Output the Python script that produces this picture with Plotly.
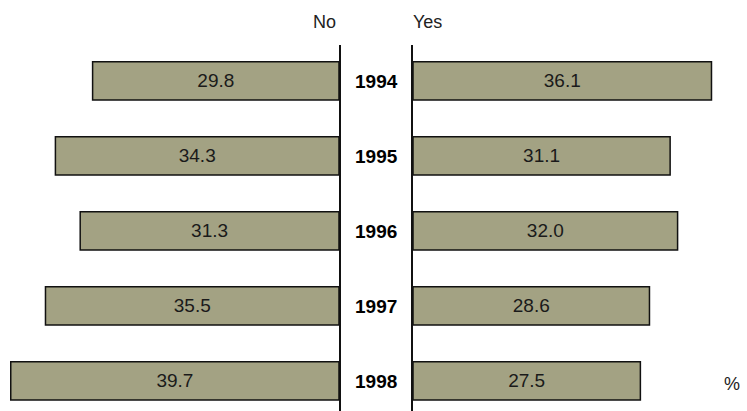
import plotly.graph_objects as go

years = ["1994", "1995", "1996", "1997", "1998"]
no_vals = [29.8, 34.3, 31.3, 35.5, 39.7]
yes_vals = [36.1, 31.1, 32.0, 28.6, 27.5]

W, H = 747, 411
BAR = "#a3a283"
FONT = "Liberation Sans, Arial, sans-serif"

fig = go.Figure()
fig.add_trace(go.Bar(
    y=years, x=no_vals, orientation="h", xaxis="x", yaxis="y",
    marker=dict(color=BAR, line=dict(color="#111111", width=1.5)),
    width=0.51, text=[f"{v:.1f}" for v in no_vals], textposition="inside",
    insidetextanchor="middle", textangle=0,
    textfont=dict(family=FONT, size=19, color="#1a1a1a"),
    hoverinfo="skip", showlegend=False,
))
fig.add_trace(go.Bar(
    y=years, x=yes_vals, orientation="h", xaxis="x2", yaxis="y2",
    marker=dict(color=BAR, line=dict(color="#111111", width=1.5)),
    width=0.51, text=[f"{v:.1f}" for v in yes_vals], textposition="inside",
    insidetextanchor="middle", textangle=0,
    textfont=dict(family=FONT, size=19, color="#1a1a1a"),
    hoverinfo="skip", showlegend=False,
))

left_end = 339 / W
right_start = 413 / W
pxu = 339 / 41.0
ytop = 1 - 45 / H

fig.update_layout(
    width=W, height=H, margin=dict(l=0, r=0, t=0, b=0),
    paper_bgcolor="white", plot_bgcolor="white",
    xaxis=dict(domain=[0, left_end], range=[41.0, 0], visible=False, fixedrange=True),
    xaxis2=dict(domain=[right_start, 1], range=[0, (W - 413) / pxu], visible=False, fixedrange=True),
    yaxis=dict(domain=[0, ytop], anchor="x", side="right", range=[4.4, -0.48],
               showline=True, linecolor="#111111", linewidth=2, showticklabels=False,
               ticks="", showgrid=False, zeroline=False, type="category", fixedrange=True),
    yaxis2=dict(domain=[0, ytop], anchor="x2", side="left", range=[4.4, -0.48],
                showline=True, linecolor="#111111", linewidth=2, showticklabels=False,
                ticks="", showgrid=False, zeroline=False, type="category", fixedrange=True),
)

for i, yr in enumerate(years):
    fig.add_annotation(x=376 / W, xref="paper", y=i, yref="y", text=f"<b>{yr}</b>",
                       showarrow=False, font=dict(family=FONT, size=19, color="#000"),
                       xanchor="center", yanchor="middle")

fig.add_annotation(x=338 / W, xref="paper", y=1 - 22 / H, yref="paper", text="No",
                   showarrow=False, xanchor="right", yanchor="middle",
                   font=dict(family=FONT, size=18, color="#222"))
fig.add_annotation(x=411 / W, xref="paper", y=1 - 22 / H, yref="paper", text="Yes",
                   showarrow=False, xanchor="left", yanchor="middle",
                   font=dict(family=FONT, size=18, color="#222"))
fig.add_annotation(x=732 / W, xref="paper", y=1 - 384 / H, yref="paper", text="%",
                   showarrow=False, xanchor="center", yanchor="middle",
                   font=dict(family=FONT, size=18, color="#222"))

fig.write_html("out.html", config={"displayModeBar": False},
               post_script="document.body.style.margin='0';")
